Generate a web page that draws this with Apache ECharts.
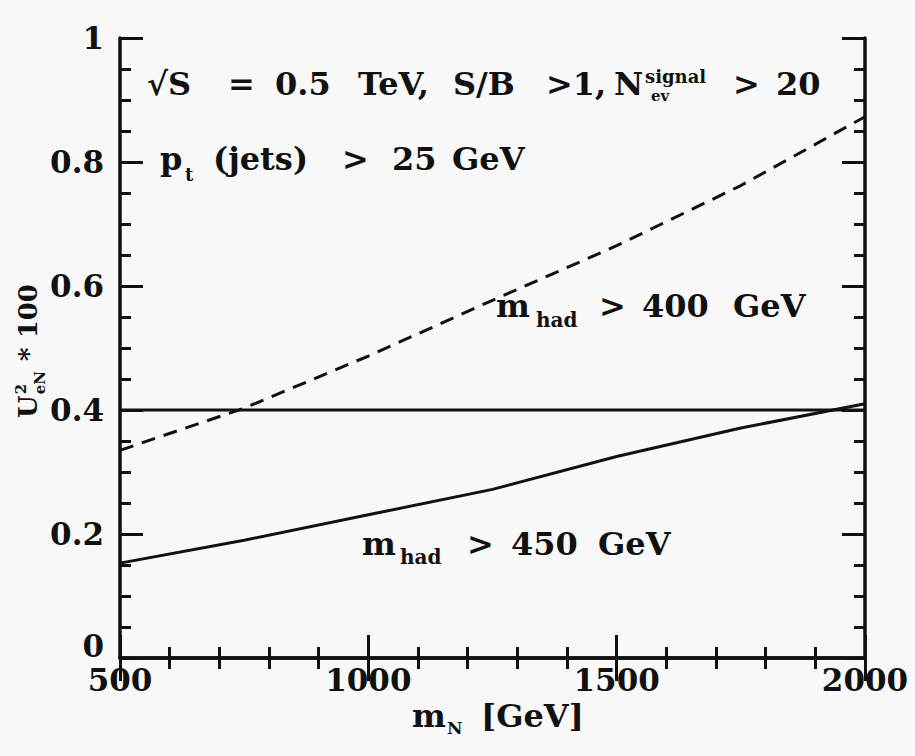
<!DOCTYPE html>
<html><head><meta charset="utf-8">
<script src="https://cdn.jsdelivr.net/npm/echarts@6/dist/echarts.min.js"></script>
<style>html,body{margin:0;padding:0;background:#f8f8f8}#c{width:915px;height:756px}</style>
</head><body><div id="c"></div>
<script>
// ---- data ----
const xMhad400 = [500, 750, 1000, 1250, 1500, 1750, 2000];
const yMhad400 = [0.335, 0.403, 0.487, 0.577, 0.665, 0.762, 0.873];
const xMhad450 = [500, 750, 1000, 1250, 1500, 1750, 2000];
const yMhad450 = [0.153, 0.19, 0.231, 0.272, 0.325, 0.371, 0.41];
const xFlat = [500, 2000];
const yFlat = [0.4, 0.4];
const xRange = [500, 2000];
const yRange = [0, 1];

const FAM = '"DejaVu Serif"';
const INK = '#111';
const ctx = document.createElement('canvas').getContext('2d');
function tw(t, s){ ctx.font = 'bold ' + s + 'px ' + FAM; return ctx.measureText(t).width; }
function T(t, x, y, s){
  return {type:'text', x:x, y:y, style:{text:t, fontFamily:FAM, fontWeight:'bold', fontSize:s, fill:INK, verticalAlign:'middle', align:'left'}};
}
// annotation: list of [text, left, centreY, fontSize]
function annot(tokens){
  return {type:'group', children: tokens.map(k => T(k[0], k[1], k[2], k[3]))};
}
// rotated axis title made of pieces
function rotTitle(pieces, cx, cy, main){
  const items = []; let x = 0;
  for (const p of pieces){
    if (p.m !== undefined){ items.push(T(p.m, x, 0, main)); x += tw(p.m, main); }
    else {
      items.push(T(p.sup, x + 1, -main*0.26, p.size));
      items.push(T(p.sub, x + 1, main*0.46, p.size));
      x += Math.max(tw(p.sup, p.size), tw(p.sub, p.size)) + 2;
    }
  }
  items.forEach(it => { it.x -= x/2; });
  return {type:'group', x:cx, y:cy, rotation:Math.PI/2, children:items};
}

const chart = echarts.init(document.getElementById('c'), null, {renderer:'svg'});

const axisCommon = {
  type:'value', axisLine:{show:true, lineStyle:{color:INK, width:3.5}},
  axisTick:{show:true, inside:true, length:23, lineStyle:{color:INK, width:3}},
  minorTick:{show:true, length:11, lineStyle:{color:INK, width:3}},
  splitLine:{show:false}, minorSplitLine:{show:false}
};
const labelStyle = {fontFamily:FAM, fontWeight:'bold', fontSize:31, color:INK};

chart.setOption({
  backgroundColor:'#f8f8f8',
  animation:false,
  grid:{left:120, right:50, top:38, bottom:98, containLabel:false},
  xAxis:[
    Object.assign({}, axisCommon, {min:xRange[0], max:xRange[1], interval:500, position:'bottom',
      minorTick:Object.assign({}, axisCommon.minorTick, {splitNumber:5}),
      axisLabel:Object.assign({margin:6, formatter: v => String(v)}, labelStyle)}),
    Object.assign({}, axisCommon, {min:xRange[0], max:xRange[1], interval:500, position:'top',
      minorTick:Object.assign({}, axisCommon.minorTick, {splitNumber:5}),
      axisLabel:{show:false}})
  ],
  yAxis:[
    Object.assign({}, axisCommon, {min:yRange[0], max:yRange[1], interval:0.2, position:'left',
      minorTick:Object.assign({}, axisCommon.minorTick, {splitNumber:4}),
      axisLabel:Object.assign({margin:16,
        formatter: v => v === 0 ? '{z|0}' : String(v),
        rich:{z:Object.assign({padding:[0,0,24,0]}, labelStyle)}}, labelStyle)}),
    Object.assign({}, axisCommon, {min:yRange[0], max:yRange[1], interval:0.2, position:'right',
      minorTick:Object.assign({}, axisCommon.minorTick, {splitNumber:4}),
      axisLabel:{show:false}})
  ],
  series:[
    {type:'line', name:'m_had > 400 GeV', data:xMhad400.map((x,i)=>[x, yMhad400[i]]), symbol:'none',
      lineStyle:{color:INK, width:3, type:[14,9]}},
    {type:'line', name:'m_had > 450 GeV', data:xMhad450.map((x,i)=>[x, yMhad450[i]]), symbol:'none',
      lineStyle:{color:INK, width:3}},
    {type:'line', name:'flat', data:xFlat.map((x,i)=>[x, yFlat[i]]), symbol:'none',
      lineStyle:{color:INK, width:3}}
  ],
  graphic:[
    annot([['√S',147,84,32],['=',228,84,32],['0.5',275,84,32],['TeV,',358,84,32],['S/B',453,84,32],
           ['>1,',546,84,32],['N',614,84,32],['signal',645,76,18],['ev',651,96,15],['>',733,84,32],['20',776,84,32]]),
    annot([['p',160,159,32],['t',185,174,18],['(jets)',213,159,32],['>',342,159,32],['25',392,159,32],['GeV',452,159,32]]),
    annot([['m',496,306,32],['had',536,320,20],['>',599,306,32],['400',642,306,32],['GeV',733,306,32]]),
    annot([['m',362,544,32],['had',400,557,20],['>',467,544,32],['450',511,544,32],['GeV',598,544,32]]),
    annot([['m',412,716,32],['N',447,728,17],['[GeV]',481,716,32]]),
    rotTitle([{m:'U'},{sup:'2', sub:'eN', size:15},{m:' * 100'}], 28, 351, 26)
  ]
});
</script>
</body></html>
